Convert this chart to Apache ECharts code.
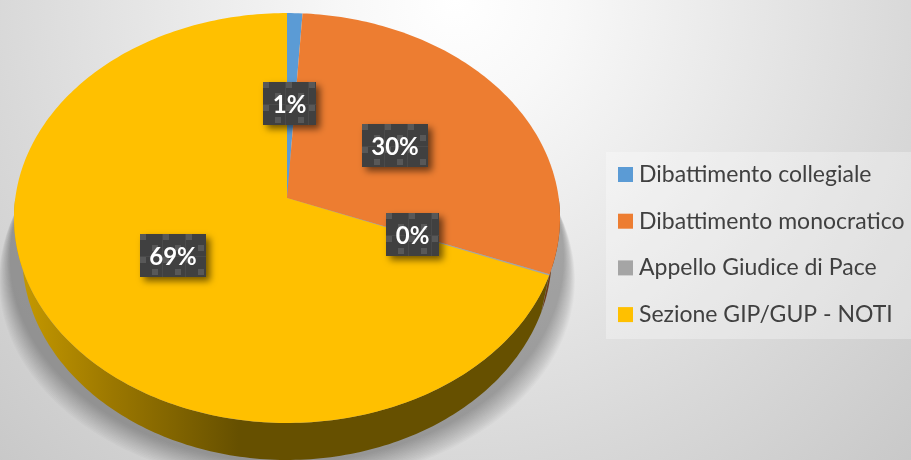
<!DOCTYPE html>
<html>
<head>
<meta charset="utf-8">
<title>Ripartizione</title>
<script src="https://cdn.jsdelivr.net/npm/echarts@6/dist/echarts.min.js"></script>
<style>
    html, body { margin: 0; padding: 0; }
    #chart { width: 911px; height: 460px; }
</style>
</head>
<body>
<div id="chart"></div>
<script>
const categories = ['Dibattimento collegiale', 'Dibattimento monocratico', 'Appello Giudice di Pace', 'Sezione GIP/GUP - NOTI'];
const values = [1.0, 29.9, 0.1, 69.0];
const colors = ['#5b9bd5', '#ed7d31', '#a5a5a5', '#ffc000'];
const wallColors = ['#2f5373', '#6e3a16', '#555555', '#665000'];

const FONT = 'Lato, "Open Sans", sans-serif';

// tilted disc: centre, half axes and perspective strength
const CX = 287, CY = 198, AX = 271.7, AY = 203, PERSP = 0.0976;
const DEPTH = 37;
const LOWER_SCALE = 0.97;   // lower face looks a bit narrower
const LABEL_POS = 0.49;
const SHADOW_LAYERS = 16;

const total = values.reduce((a, b) => a + b, 0);
const angles = [0];
values.forEach(v => angles.push(angles[angles.length - 1] + v / total * 360));

// disc point at angle deg (clockwise from top), f = fraction of radius
function project(deg, f) {
    const t = deg * Math.PI / 180;
    const u = f * Math.sin(t), v = f * Math.cos(t);
    const w = 1 + PERSP * v;
    return [CX + AX * u / w, CY - AY * v / w];
}

// rim points, scaled in x around the centre and moved down by dy
function rimPoints(from, to, scale, dy) {
    const pts = [];
    const n = Math.max(2, Math.ceil(Math.abs(to - from)));
    for (let i = 0; i <= n; i++) {
        const p = project(from + (to - from) * i / n, 1);
        pts.push([CX + (p[0] - CX) * scale, p[1] + dy]);
    }
    return pts;
}

// tile for the dotted box behind the labels
function makeLabelTile() {
    const c = document.createElement('canvas');
    c.width = 23;
    c.height = 43;
    const g = c.getContext('2d');
    g.fillStyle = '#404040';
    g.fillRect(0, 0, 23, 43);
    g.fillStyle = '#4a4a4a';
    g.fillRect(22, 0, 1, 43);
    g.fillRect(0, 22, 23, 1);
    g.fillStyle = '#585858';
    [[0, 0], [12, 11], [0, 23], [12, 35]].forEach(p => g.fillRect(p[0], p[1], 6, 6));
    return c;
}
const labelTile = makeLabelTile();

// soft shadow under the pie, stacked see-through layers of the front rim
function shadowLayers() {
    const layers = [];
    for (let k = 0; k < SHADOW_LAYERS; k++) {
        const t = k / (SHADOW_LAYERS - 1);
        layers.push({
            type: 'polygon',
            shape: { points: rimPoints(60, 300, 1.055 - 0.04 * t, 62 - 22 * t) },
            style: { fill: 'rgba(0,0,0,0.02)' }
        });
    }
    return layers;
}

// side wall, only the front half (90-270) shows
function renderWall(params) {
    const i = params.dataIndex;
    const children = i === 1 ? shadowLayers() : [];
    const from = Math.max(angles[i], 90), to = Math.min(angles[i + 1], 270);
    if (to > from) {
        const top = rimPoints(from, to, 1, 0);
        const bottom = rimPoints(to, from, LOWER_SCALE, DEPTH);
        const isLast = i === values.length - 1;
        children.push({
            type: 'polygon',
            shape: { points: top.concat(bottom) },
            style: {
                fill: isLast ? {
                    type: 'linear', x: 0, y: 0, x2: 1, y2: 0,
                    colorStops: [
                        { offset: 0, color: '#c89b00' },
                        { offset: 0.18, color: '#9c7800' },
                        { offset: 0.42, color: '#665000' },
                        { offset: 1, color: wallColors[i] }
                    ]
                } : wallColors[i]
            }
        });
    }
    return { type: 'group', children: children };
}

function renderSlice(i) {
    return function () {
        const pts = [project(0, 0)].concat(rimPoints(angles[i], angles[i + 1], 1, 0));
        return {
            type: 'polygon',
            shape: { points: pts },
            style: { fill: colors[i] }
        };
    };
}

function renderLabel(params, api) {
    const i = params.dataIndex;
    const text = Math.round(api.value(0) / total * 100) + '%';
    const p = project((angles[i] + angles[i + 1]) / 2, LABEL_POS);
    const w = 27 + 13 * text.length, h = 43;
    return {
        type: 'group',
        x: Math.round(p[0] - w / 2) - 1,
        y: Math.round(p[1] - h / 2),
        children: [{
            type: 'rect',
            shape: { x: 0, y: 0, width: w, height: h },
            style: {
                fill: { image: labelTile, repeat: 'repeat' },
                shadowBlur: 7,
                shadowOffsetX: 4,
                shadowOffsetY: 4,
                shadowColor: 'rgba(0,0,0,0.55)'
            }
        }, {
            type: 'text',
            style: {
                x: w / 2,
                y: h / 2 + 2,
                text: text,
                fill: '#ffffff',
                font: 'bold 24px ' + FONT,
                align: 'center',
                verticalAlign: 'middle'
            }
        }]
    };
}

const chart = echarts.init(document.getElementById('chart'));

const series = [{
    name: 'parete',
    type: 'custom',
    coordinateSystem: 'none',
    silent: true,
    z: 2,
    data: values,
    renderItem: renderWall
}];

categories.forEach((name, i) => {
    series.push({
        name: name,
        type: 'custom',
        coordinateSystem: 'none',
        z: 3,
        itemStyle: { color: colors[i] },
        data: [values[i]],
        renderItem: renderSlice(i)
    });
});

series.push({
    name: 'etichette',
    type: 'custom',
    coordinateSystem: 'none',
    silent: true,
    z: 4,
    data: values,
    renderItem: renderLabel
});

chart.setOption({
    animation: false,
    backgroundColor: {
        type: 'radial', x: 0.5, y: 0, r: 1.42,
        colorStops: [
            { offset: 0, color: '#ffffff' },
            { offset: 0.17, color: '#f8f8f8' },
            { offset: 0.54, color: '#e2e2e2' },
            { offset: 0.71, color: '#d8d8d8' },
            { offset: 1, color: '#c8c8c8' }
        ]
    },
    graphic: [{
        type: 'rect',
        z: 1,
        silent: true,
        shape: { x: 606, y: 152, width: 305, height: 187 },
        style: { fill: 'rgba(255,255,255,0.3)' }
    }],
    legend: {
        data: categories,
        orient: 'vertical',
        left: 613,
        top: 157,
        itemWidth: 15,
        itemHeight: 15,
        itemGap: 21.7,
        selectedMode: false,
        icon: 'rect',
        textStyle: {
            color: '#404040',
            fontFamily: FONT,
            fontSize: 23,
            lineHeight: 25,
            padding: [0, 0, 0, 1]
        }
    },
    series: series
});
</script>
</body>
</html>
